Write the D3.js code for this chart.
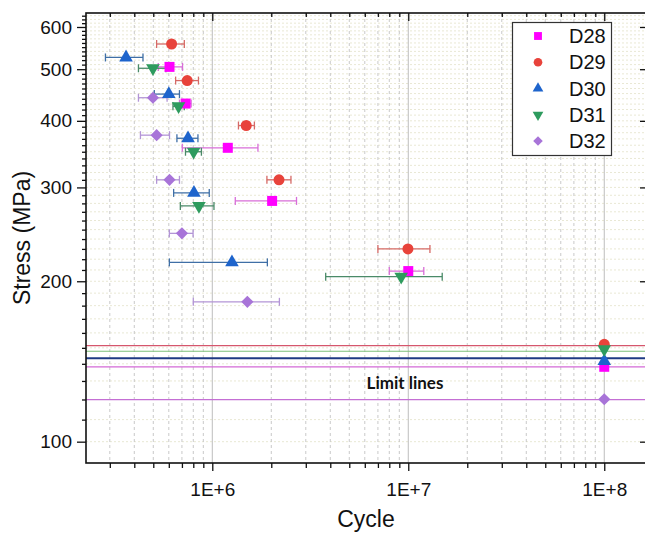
<!DOCTYPE html>
<html>
<head>
<meta charset="utf-8">
<script src="https://cdn.jsdelivr.net/npm/d3@7"></script>
<style>
  html, body { margin: 0; padding: 0; background: #fff; }
  svg { display: block; }
</style>
</head>
<body>
<svg id="chart" width="645" height="534"></svg>
<script>
// ---------------- DATA ----------------
const seriesNames = ["D28", "D29", "D30", "D31", "D32"];
const seriesColors = ["#ff00ff", "#e8433b", "#1e64cc", "#2e9b5e", "#a874d8"];
const errorColors  = ["#d86ed8", "#d66a66", "#3f6fa6", "#4a8a68", "#b395d6"];
const seriesShapes = ["square", "circle", "triangle", "triangleDown", "diamond"];

// cycles, stress (MPa), lower / upper ends of the cycle scatter bar
const d28Cycles = [6.05e5, 7.31e5, 1.2e6, 2.02e6, 1.0e7, 1.0e8];
const d28Stress = [505, 431, 356, 283, 209, 138.2];
const d28Low    = [5.3e5, 6.8e5, 7.03e5, 1.31e6, 8.0e6, null];
const d28High   = [7.05e5, 7.8e5, 1.71e6, 2.69e6, 1.2e7, null];

const d29Cycles = [6.2e5, 7.45e5, 1.49e6, 2.19e6, 9.96e6, 1.0e8];
const d29Stress = [557.5, 476, 392, 310, 230, 152.3];
const d29Low    = [5.2e5, 6.5e5, 1.36e6, 1.9e6, 7.0e6, null];
const d29High   = [7.2e5, 8.5e5, 1.64e6, 2.52e6, 1.29e7, null];

const d30Cycles = [3.63e5, 6.0e5, 7.52e5, 8.06e5, 1.26e6, 1.0e8];
const d30Stress = [526, 449, 371, 293, 217, 141.7];
const d30Low    = [2.85e5, 5.06e5, 6.6e5, 6.35e5, 6.04e5, null];
const d30High   = [4.43e5, 6.8e5, 8.45e5, 9.65e5, 1.91e6, null];

const d31Cycles = [4.98e5, 6.73e5, 8.03e5, 8.55e5, 9.2e6, 1.0e8];
const d31Stress = [502, 426, 350, 277, 204, 149.2];
const d31Low    = [4.2e5, 6.3e5, 7.3e5, 6.87e5, 3.79e6, null];
const d31High   = [5.8e5, 7.2e5, 8.8e5, 1.02e6, 1.49e7, null];

const d32Cycles = [4.98e5, 5.2e5, 6.05e5, 7.0e5, 1.51e6, 1.0e8];
const d32Stress = [442, 376, 310, 246, 183, 120.1];
const d32Low    = [4.2e5, 4.3e5, 5.2e5, 6.04e5, 8.0e5, null];
const d32High   = [5.88e5, 6.05e5, 6.8e5, 7.98e5, 2.2e6, null];

// horizontal limit lines (MPa)
const limitValues = [151.4, 147.8, 143.4, 138.1, 119.9];
const limitColors = ["#d5566c", "#7cc07a", "#1f3a84", "#d36ad6", "#c46fd4"];
const limitWidths = [1.2, 1.2, 1.8, 1.2, 1.2];
const limitLabel = "Limit lines";

// axis ticks
const xMajorTicks = [1e6, 1e7, 1e8];
const xTickLabels = ["1E+6", "1E+7", "1E+8"];
const yMajorTicks = [100, 200, 300, 400, 500, 600];
const xLabel = "Cycle";
const yLabel = "Stress (MPa)";

const xDomain = [2.268e5, 1.633e8];
const yDomain = [91.2, 637.4];

// ---------------- BUILD ----------------
const series = [
  { c: d28Cycles, s: d28Stress, lo: d28Low, hi: d28High },
  { c: d29Cycles, s: d29Stress, lo: d29Low, hi: d29High },
  { c: d30Cycles, s: d30Stress, lo: d30Low, hi: d30High },
  { c: d31Cycles, s: d31Stress, lo: d31Low, hi: d31High },
  { c: d32Cycles, s: d32Stress, lo: d32Low, hi: d32High }
].map((d, i) => ({
  name: seriesNames[i], color: seriesColors[i], ecolor: errorColors[i], shape: seriesShapes[i],
  points: d.c.map((c, j) => ({ x: c, y: d.s[j], lo: d.lo[j], hi: d.hi[j] }))
}));

const pL = 86, pR = 646, pT = 13, pB = 463;
const svg = d3.select("#chart");
const x = d3.scaleLog().domain(xDomain).range([pL, pR]);
const y = d3.scaleLog().domain(yDomain).range([pB, pT]);

// minor tick values
const xMinor = [];
for (let e = 5; e <= 8; e++) for (let m = 2; m <= 9; m++) {
  const v = m * Math.pow(10, e);
  if (v > xDomain[0] && v < xDomain[1]) xMinor.push(v);
}
const yMinor = [];
for (let v = 100; v <= 630; v += 10) if (v % 100 !== 0) yMinor.push(v);

// grid
const grid = svg.append("g");
grid.selectAll(".hg").data(yMinor.concat(yMajorTicks)).join("line")
  .attr("x1", pL).attr("x2", pR)
  .attr("y1", d => y(d)).attr("y2", d => y(d))
  .attr("stroke", "#e9e8d4").attr("stroke-width", 1).attr("stroke-dasharray", "2,2");
grid.selectAll(".vg").data(xMinor).join("line")
  .attr("x1", d => x(d)).attr("x2", d => x(d))
  .attr("y1", pT).attr("y2", pB)
  .attr("stroke", "#c9c9c9").attr("stroke-width", 1).attr("stroke-dasharray", "3,3");
grid.selectAll(".vgm").data(xMajorTicks).join("line")
  .attr("x1", d => x(d)).attr("x2", d => x(d))
  .attr("y1", pT).attr("y2", pB)
  .attr("stroke", "#bdbdbd").attr("stroke-width", 1);

// limit lines
svg.append("g").selectAll("line").data(limitValues).join("line")
  .attr("x1", pL).attr("x2", pR)
  .attr("y1", d => y(d)).attr("y2", d => y(d))
  .attr("stroke", (d, i) => limitColors[i])
  .attr("stroke-width", (d, i) => limitWidths[i]);

svg.append("text")
  .attr("x", 405).attr("y", 389)
  .attr("text-anchor", "middle")
  .attr("font-family", "Lato, 'Open Sans', sans-serif")
  .attr("font-weight", "bold").attr("font-size", 17).attr("fill", "#111")
  .text(limitLabel);

// axes
const fontAxis = "'Liberation Sans', Arial, sans-serif";
const gx = svg.append("g").attr("transform", `translate(0,${pB})`)
  .call(d3.axisBottom(x).tickValues(xMajorTicks).tickFormat((d, i) => xTickLabels[i]).tickSize(8).tickPadding(12));
const gxm = svg.append("g").attr("transform", `translate(0,${pB})`)
  .call(d3.axisBottom(x).tickValues(xMinor).tickFormat("").tickSize(5));
const gxt = svg.append("g").attr("transform", `translate(0,${pT})`)
  .call(d3.axisBottom(x).tickValues(xMajorTicks).tickFormat("").tickSize(8));
const gxtm = svg.append("g").attr("transform", `translate(0,${pT})`)
  .call(d3.axisBottom(x).tickValues(xMinor).tickFormat("").tickSize(4));
const gy = svg.append("g").attr("transform", `translate(${pL},0)`)
  .call(d3.axisLeft(y).tickValues(yMajorTicks).tickFormat(d3.format("d")).tickSize(9).tickPadding(5));
const gym = svg.append("g").attr("transform", `translate(${pL},0)`)
  .call(d3.axisLeft(y).tickValues(yMinor).tickFormat("").tickSize(4));
const gyr = svg.append("g").attr("transform", `translate(${pR},0)`)
  .call(d3.axisLeft(y).tickValues(yMajorTicks).tickFormat("").tickSize(6));

[gx, gxm, gxt, gxtm, gy, gym, gyr].forEach(g => {
  g.selectAll(".domain").remove();
  g.selectAll(".tick line").attr("stroke", "#111").attr("stroke-width", 1.3);
  g.selectAll("text").attr("font-family", fontAxis).attr("font-size", 19).attr("fill", "#111");
});

// frame
svg.append("rect").attr("x", pL).attr("y", pT)
  .attr("width", pR - pL).attr("height", pB - pT)
  .attr("fill", "none").attr("stroke", "#111").attr("stroke-width", 1.6);

// axis titles
svg.append("text").attr("x", (pL + pR) / 2).attr("y", 527)
  .attr("text-anchor", "middle").attr("font-family", fontAxis).attr("font-size", 23).attr("fill", "#111")
  .text(xLabel);
svg.append("text").attr("transform", `translate(30,${(pT + pB) / 2}) rotate(-90)`)
  .attr("text-anchor", "middle").attr("font-family", fontAxis).attr("font-size", 23).attr("fill", "#111")
  .text(yLabel);

// symbols
function symbolPath(shape, size) {
  const map = { square: d3.symbolSquare, circle: d3.symbolCircle, triangle: d3.symbolTriangle,
                triangleDown: d3.symbolTriangle, diamond: d3.symbolSquare };
  return d3.symbol().type(map[shape]).size(size)();
}
function symbolRotate(shape) {
  return shape === "triangleDown" ? " rotate(180)" : shape === "diamond" ? " rotate(45)" : "";
}
const symbolSize = { square: 100, circle: 95, triangle: 80, triangleDown: 80, diamond: 74 };

// error bars
const eg = svg.append("g");
series.forEach(s => {
  const pts = s.points.filter(p => p.lo != null);
  const g = eg.append("g").attr("stroke", s.ecolor).attr("stroke-width", 1.3);
  g.selectAll(".bar").data(pts).join("line")
    .attr("x1", d => x(d.lo)).attr("x2", d => x(d.hi))
    .attr("y1", d => y(d.y)).attr("y2", d => y(d.y));
  g.selectAll(".capl").data(pts).join("line")
    .attr("x1", d => x(d.lo)).attr("x2", d => x(d.lo))
    .attr("y1", d => y(d.y) - 4).attr("y2", d => y(d.y) + 4);
  g.selectAll(".caph").data(pts).join("line")
    .attr("x1", d => x(d.hi)).attr("x2", d => x(d.hi))
    .attr("y1", d => y(d.y) - 4).attr("y2", d => y(d.y) + 4);
});

// markers
const mg = svg.append("g");
series.forEach(s => {
  mg.append("g").selectAll("path").data(s.points).join("path")
    .attr("d", symbolPath(s.shape, symbolSize[s.shape]))
    .attr("transform", d => `translate(${x(d.x)},${y(d.y)})` + symbolRotate(s.shape))
    .attr("fill", s.color);
});

// legend
const lg = svg.append("g");
lg.append("rect").attr("x", 512.5).attr("y", 22.5).attr("width", 99).attr("height", 133)
  .attr("fill", "#fff").attr("stroke", "#333").attr("stroke-width", 1.2);
const legendRow = d3.scaleLinear().domain([0, 4]).range([36, 141]);
series.forEach((s, i) => {
  const cy = legendRow(i);
  lg.append("path")
    .attr("d", symbolPath(s.shape, symbolSize[s.shape] * 0.62))
    .attr("transform", `translate(538,${cy})` + symbolRotate(s.shape))
    .attr("fill", s.color);
  lg.append("text").attr("x", 569).attr("y", cy + 7)
    .attr("font-family", fontAxis).attr("font-size", 20).attr("fill", "#111")
    .text(s.name);
});
</script>
</body>
</html>
